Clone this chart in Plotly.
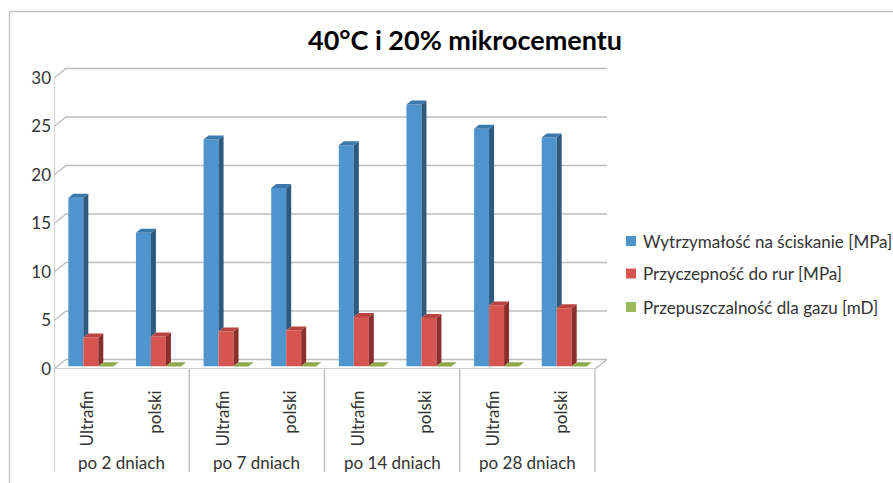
import plotly.graph_objects as go

# ---- data ----
groups = ["po 2 dniach", "po 7 dniach", "po 14 dniach", "po 28 dniach"]
cements = ["Ultrafin", "polski", "Ultrafin", "polski", "Ultrafin", "polski", "Ultrafin", "polski"]
series_names = [
    "Wytrzymałość na ściskanie [MPa]",
    "Przyczepność do rur [MPa]",
    "Przepuszczalność dla gazu [mD]",
]
compressive = [17.4, 13.8, 23.4, 18.4, 22.8, 27.0, 24.5, 23.6]
adhesion = [3.0, 3.1, 3.6, 3.7, 5.1, 5.0, 6.3, 6.0]
permeability = [0.02, 0.02, 0.02, 0.02, 0.02, 0.02, 0.02, 0.02]
y_ticks = [0, 5, 10, 15, 20, 25, 30]

# ---- styling ----
FONT = "Lato"
TEXT = "#333333"
GRID = "#BDBDBD"
front_colors = ["#4F94CD", "#D75550", "#9BBB59"]
side_colors = ["#2E5A7E", "#8A2F2D", "#6C8836"]
top_colors = ["#3B78AE", "#B9433F", "#8FA84C"]

W, H = 893, 483
LEFT_PX, ZERO_PX = 54, 369          # front-left corner of the floor
PX_PER_X, PX_PER_Y = 67.625, 9.7    # pixels per category slot / per MPa
X_RANGE = [-0.5, 7.9]
Y_RANGE = [0, 31.5]
WALL_DX, WALL_DY = 12, 9.5          # depth of the back wall (px)
BAR_SHIFT_X, BAR_SHIFT_Y = 3, 2.5   # bars sit half-way into the depth (px)
BAR_DX, BAR_DY = 5, 4               # bar depth (px)
BAR_GAP = 0.335
LABEL_SIZE = 17


def fx(px):
    return px / W


def fy(py):
    return 1 - py / H


def x_domain(left_px):
    return [fx(left_px), fx(left_px + (X_RANGE[1] - X_RANGE[0]) * PX_PER_X)]


def y_domain(zero_px):
    return [fy(zero_px), fy(zero_px - (Y_RANGE[1] - Y_RANGE[0]) * PX_PER_Y)]


series = [compressive, adhesion, permeability]
positions = list(range(len(cements)))
bar_w = (1 - BAR_GAP) / len(series)

fig = go.Figure()
for k, (name, vals) in enumerate(zip(series_names, series)):
    fig.add_trace(go.Bar(
        x=positions, y=vals, name=name,
        width=bar_w, offset=(k - 1.5) * bar_w,
        marker=dict(color=front_colors[k], line=dict(width=0)),
        xaxis="x2", yaxis="y2", showlegend=False,
    ))

shapes = []

# back-wall gridlines with their perspective ticks
wdx, wdy = WALL_DX / PX_PER_X, WALL_DY / PX_PER_Y
x_left, x_right = -0.5, len(cements) - 0.5
for t in y_ticks:
    shapes.append(dict(
        type="path", xref="x", yref="y", layer="below",
        path=f"M {x_left},{t} L {x_left + wdx},{t + wdy} L {x_right + wdx},{t + wdy}",
        line=dict(color=GRID, width=1.3),
    ))
# floor front edge and right edge
shapes.append(dict(
    type="path", xref="x", yref="y", layer="below",
    path=f"M {x_left},0 L {x_right},0 L {x_right + wdx},{wdy}",
    line=dict(color=GRID, width=1.3),
))
# value axis line
shapes.append(dict(type="line", xref="x", yref="y", layer="below",
                   x0=x_left, x1=x_left, y0=0, y1=y_ticks[-1],
                   line=dict(color=GRID, width=1.3)))
# category group dividers below the floor
for b in range(len(groups) + 1):
    xb = x_left + 2 * b
    shapes.append(dict(type="line", xref="x", yref="paper", layer="below",
                       x0=xb, x1=xb, y0=fy(ZERO_PX), y1=fy(472),
                       line=dict(color=GRID, width=1.3)))

# side and top faces of the 3D columns
bdx, bdy = BAR_DX / PX_PER_X, BAR_DY / PX_PER_Y
for i in positions:
    for k, vals in enumerate(series):
        v = vals[i]
        left = i + (k - 1.5) * bar_w
        right = left + bar_w
        base = series[k + 1][i] if k + 1 < len(series) else 0
        shapes.append(dict(
            type="path", xref="x2", yref="y2", layer="above",
            path=(f"M {right},{base} L {right},{v} L {right + bdx},{v + bdy} "
                  f"L {right + bdx},{base + bdy} Z"),
            fillcolor=side_colors[k], line=dict(width=0),
        ))
        shapes.append(dict(
            type="path", xref="x2", yref="y2", layer="above",
            path=(f"M {left},{v} L {right},{v} L {right + bdx},{v + bdy} "
                  f"L {left + bdx},{v + bdy} Z"),
            fillcolor=top_colors[k], line=dict(width=0),
        ))

# outer chart frame
shapes.append(dict(type="rect", xref="paper", yref="paper",
                   x0=fx(9.5), x1=1.05, y0=-0.05, y1=fy(11.5),
                   line=dict(color="#C4C4C4", width=1.3)))

annotations = []
# curing-time group labels
for g, name in enumerate(groups):
    annotations.append(dict(
        x=2 * g + 0.5, y=fy(462), xref="x", yref="paper", text=name,
        showarrow=False, xanchor="center", yanchor="middle",
        font=dict(family=FONT, size=LABEL_SIZE, color=TEXT),
    ))
# legend
legend_y = [241, 273.5, 307]
for k, name in enumerate(series_names):
    shapes.append(dict(type="rect", xref="paper", yref="paper",
                       x0=fx(626), x1=fx(636), y0=fy(legend_y[k] + 5), y1=fy(legend_y[k] - 5),
                       fillcolor=front_colors[k], line=dict(width=0)))
    annotations.append(dict(
        x=fx(641), y=fy(legend_y[k]), xref="paper", yref="paper", text=name,
        showarrow=False, xanchor="left", yanchor="middle",
        font=dict(family=FONT, size=LABEL_SIZE, color=TEXT),
    ))

axis_off = dict(showgrid=False, zeroline=False, showline=False, showticklabels=False,
                ticks="", automargin=False)

fig.update_layout(
    width=W, height=H,
    autosize=False,
    margin=dict(l=0, r=0, t=0, b=0, pad=0, autoexpand=False),
    paper_bgcolor="white", plot_bgcolor="rgba(0,0,0,0)",
    barmode="overlay",
    title=dict(text="<b>40°C i 20% mikrocementu</b>", x=fx(465), xanchor="center",
               y=fy(41), yanchor="middle", automargin=False,
               font=dict(family=FONT, size=27, color="#000000")),
    xaxis=dict(domain=x_domain(LEFT_PX), range=X_RANGE, anchor="y",
               tickvals=positions, ticktext=cements, tickangle=-90,
               showgrid=False, zeroline=False, showline=False, ticks="",
               ticklabelstandoff=17, automargin=False,
               tickfont=dict(family=FONT, size=LABEL_SIZE, color=TEXT)),
    yaxis=dict(domain=y_domain(ZERO_PX), range=Y_RANGE, anchor="x",
               tickvals=y_ticks, ticktext=[str(t) for t in y_ticks],
               showgrid=False, zeroline=False, showline=False, ticks="",
               ticklabelstandoff=2, automargin=False,
               tickfont=dict(family=FONT, size=LABEL_SIZE, color=TEXT)),
    xaxis2=dict(domain=x_domain(LEFT_PX + BAR_SHIFT_X), range=X_RANGE, anchor="y2", **axis_off),
    yaxis2=dict(domain=y_domain(ZERO_PX - BAR_SHIFT_Y), range=Y_RANGE, anchor="x2", **axis_off),
    shapes=shapes,
    annotations=annotations,
    showlegend=False,
)

# the first legend label runs past the right edge; keep the page from scrolling
fig.write_html(
    "out.html",
    config=dict(responsive=False, displayModeBar=False),
    post_script="document.body.style.margin='0';document.body.style.overflow='hidden';"
                "document.querySelectorAll('.main-svg').forEach(function(s){s.style.overflow='hidden';});",
)
